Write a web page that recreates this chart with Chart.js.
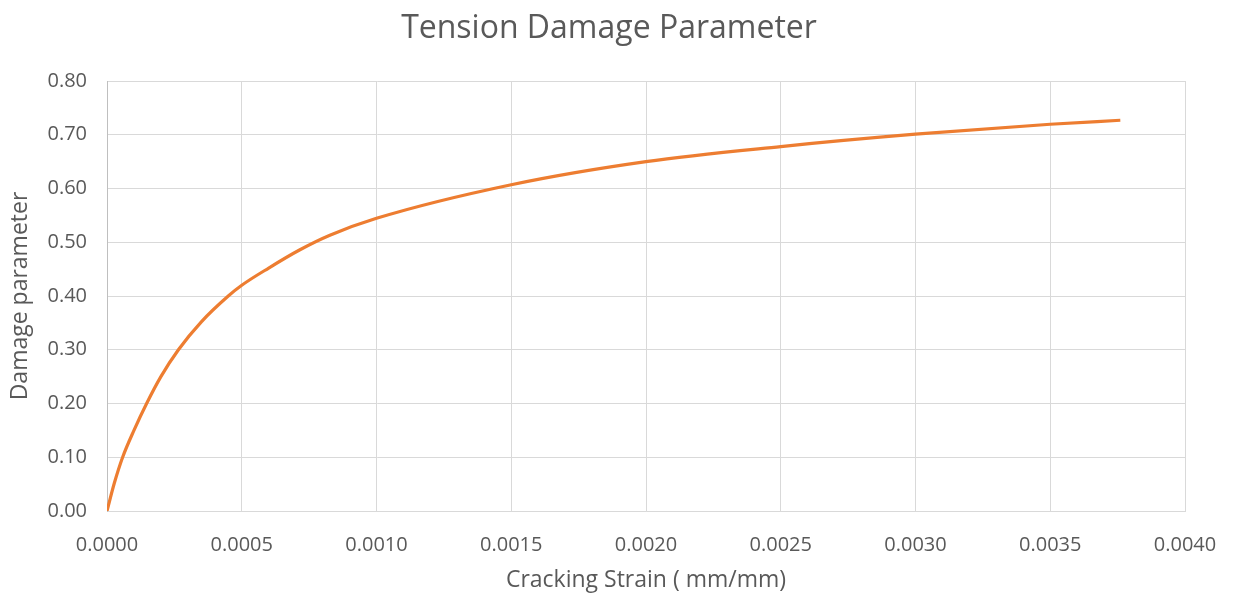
<!DOCTYPE html>
<html>
<head>
<meta charset="utf-8">
<script src="https://cdn.jsdelivr.net/npm/chart.js@4"></script>
<style>
  html, body { margin: 0; padding: 0; background: #fff; }
</style>
</head>
<body>
<canvas id="myChart" width="1233" height="596"></canvas>
<script>
// valores
var strain = [0, 0.000027, 0.000058, 0.0001, 0.000147, 0.0002, 0.000265, 0.00035, 0.00045, 0.0005, 0.0006,
  0.000716, 0.000827, 0.001, 0.0015, 0.002, 0.0025, 0.003, 0.0035, 0.00376];
var damage = [0, 0.0515, 0.10, 0.15, 0.20, 0.25, 0.30, 0.352, 0.40, 0.42, 0.452,
  0.486, 0.513, 0.5445, 0.607, 0.650, 0.678, 0.701, 0.7195, 0.727];

var xTicks = [0, 0.0005, 0.001, 0.0015, 0.002, 0.0025, 0.003, 0.0035, 0.004];
var yTicks = [0, 0.1, 0.2, 0.3, 0.4, 0.5, 0.6, 0.7, 0.8];

var gris = '#595959';
var font = '"Open Sans", sans-serif';

var puntos = strain.map(function (x, i) { return { x: x, y: damage[i] }; });

var ctx = document.getElementById('myChart').getContext('2d');
var chart = new Chart(ctx, {
  type: 'line',
  data: {
    datasets: [{
      label: 'Damage',
      data: puntos,
      borderColor: '#ED7D31',
      backgroundColor: '#ED7D31',
      borderWidth: 3.2,
      pointRadius: 0,
      cubicInterpolationMode: 'monotone',
      fill: false
    }]
  },
  options: {
    responsive: false,
    animation: false,
    layout: { padding: { left: 7, right: 22, top: 0, bottom: 2 } },
    plugins: {
      legend: { display: false },
      tooltip: { enabled: false },
      title: {
        display: true,
        text: 'Tension Damage Parameter',
        color: gris,
        font: { family: font, size: 32, weight: 'normal', lineHeight: 1.2 },
        padding: { top: 10, bottom: 32.6 }
      }
    },
    scales: {
      x: {
        type: 'linear',
        min: 0,
        max: 0.004,
        afterBuildTicks: function (scale) {
          scale.ticks = xTicks.map(function (v) { return { value: v }; });
        },
        afterFit: function (scale) {
          scale.height = 83;
          scale.paddingLeft = 0;
          scale.paddingRight = 0;
        },
        ticks: {
          color: gris,
          padding: 22,
          maxRotation: 0,
          font: { family: font, size: 20 },
          callback: function (v) { return Number(v).toFixed(4); }
        },
        grid: { color: '#d9d9d9', lineWidth: 1, drawTicks: false },
        border: { color: '#d9d9d9' },
        title: {
          display: true,
          text: 'Cracking Strain ( mm/mm)',
          color: gris,
          font: { family: font, size: 23 },
          padding: { top: 0, bottom: 0 }
        }
      },
      y: {
        min: 0,
        max: 0.8,
        afterBuildTicks: function (scale) {
          scale.ticks = yTicks.map(function (v) { return { value: v }; });
        },
        afterFit: function (scale) { scale.width = 100; },
        ticks: {
          color: gris,
          padding: 20,
          font: { family: font, size: 20 },
          callback: function (v) { return Number(v).toFixed(2); }
        },
        grid: { color: '#d9d9d9', lineWidth: 1, drawTicks: false },
        border: { color: '#bfbfbf' },
        title: {
          display: true,
          text: 'Damage parameter',
          color: gris,
          font: { family: font, size: 23 },
          padding: { top: 0, bottom: 0 }
        }
      },
      // eje vacio a la derecha, solo para dejar espacio
      espacio: {
        position: 'right',
        min: 0,
        max: 1,
        afterFit: function (scale) { scale.width = 26; },
        ticks: { display: false },
        grid: { display: false, drawTicks: false },
        border: { display: false }
      }
    }
  }
});
</script>
</body>
</html>
